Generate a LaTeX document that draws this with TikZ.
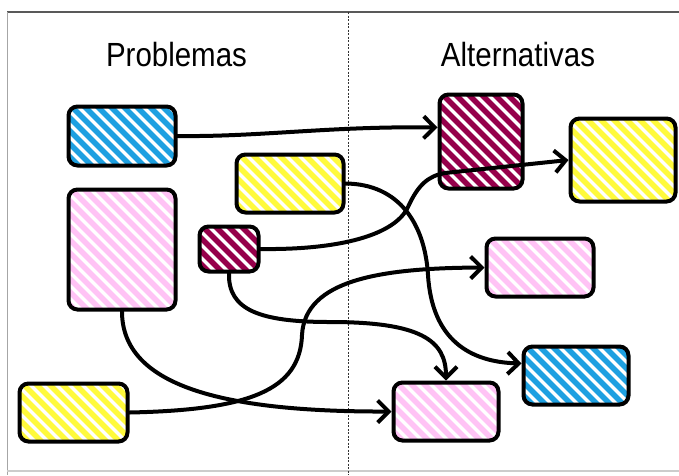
\documentclass[tikz,border=0pt]{standalone}
\usepackage{fontspec}
\newfontfamily\hfont[FakeStretch=0.88]{Liberation Sans}
\usetikzlibrary{arrows.meta}
\definecolor{cblue}{RGB}{30,160,225}
\definecolor{cyellow}{RGB}{255,250,60}
\definecolor{cpink}{RGB}{255,195,245}
\definecolor{cmaroon}{RGB}{150,0,75}
\tikzset{
  hatch/.style={path picture={
    \foreach \k in {-12,...,10}
      \draw[line width=5.5pt,#1] ([xshift=\k*13pt,yshift=3pt]path picture bounding box.north west) -- ++(170pt,-170pt);
  }},
  box/.style={draw=black, line width=4pt, rounded corners=9pt, fill=white, inner sep=0pt},
  conn/.style={draw=black, line width=4pt, line cap=round, -{Straight Barb[length=11pt,width=22pt]}},
  title/.style={anchor=base, font=\hfont\fontsize{33.5}{40}\selectfont, text=black}
}
\begin{document}
\begin{tikzpicture}[x=1pt,y=-1pt]
\useasboundingbox (0,0) rectangle (679,475);
% frame
\draw[black!65, line width=2pt] (7,12) -- (679,12);
\draw[black!35, line width=1pt] (7,12) -- (7,475);
\draw[black!20, line width=1.5pt] (7,471) -- (679,471);
\draw[black!80, line width=0.9pt, dash pattern=on 2pt off 1.5pt] (348,12) -- (348,475);
% titles
\node[title] (t1) at (176.5,66.7) {Problemas};
\node[title] (t2) at (518,66.7) {Alternativas};
% boxes
\node[box, hatch=cblue, minimum width=107pt, minimum height=59pt] (bP) at (122,136) {};
\node[box, hatch=cyellow, minimum width=107pt, minimum height=58pt] (yS) at (290,183.5) {};
\node[box, hatch=cpink, minimum width=107pt, minimum height=120pt] (pBig) at (122,249.5) {};
\node[box, hatch=cmaroon, minimum width=59pt, minimum height=45pt] (mS) at (229,249) {};
\node[box, hatch=cyellow, minimum width=108pt, minimum height=58pt] (yBL) at (73.5,412.5) {};
\node[box, hatch=cmaroon, minimum width=83pt, minimum height=94pt] (mA) at (481,141.5) {};
\node[box, hatch=cyellow, minimum width=105pt, minimum height=83pt] (yR) at (623,160) {};
\node[box, hatch=cpink, minimum width=107pt, minimum height=58pt] (pR) at (540,267.5) {};
\node[box, hatch=cblue, minimum width=105pt, minimum height=58pt] (bBR) at (576,375.5) {};
\node[box, hatch=cpink, minimum width=105pt, minimum height=58pt] (pB) at (446,411.5) {};
% connectors
\draw[conn] (bP.east) .. controls (260,137) and (330,126) .. ([yshift=14pt]mA.west);
\draw[conn] (mS.east) .. controls (340,250) and (395,235) .. (408,207) .. controls (418,185) and (428,176) .. (445,173) -- (yR.west);
\draw[conn] (yS.east) .. controls (400,184) and (425,225) .. (428,275) .. controls (432,340) and (470,362) .. ([yshift=12pt]bBR.west);
\draw[conn] (mS.south) .. controls (228,310) and (260,322) .. (330,322) .. controls (420,322) and (446,340) .. (pB.north);
\draw[conn] (pBig.south) .. controls (122,385) and (220,412) .. (pB.west);
\draw[conn] (yBL.east) .. controls (250,410) and (300,390) .. (302,335) .. controls (305,280) and (380,268) .. (pR.west);
\end{tikzpicture}
\end{document}
